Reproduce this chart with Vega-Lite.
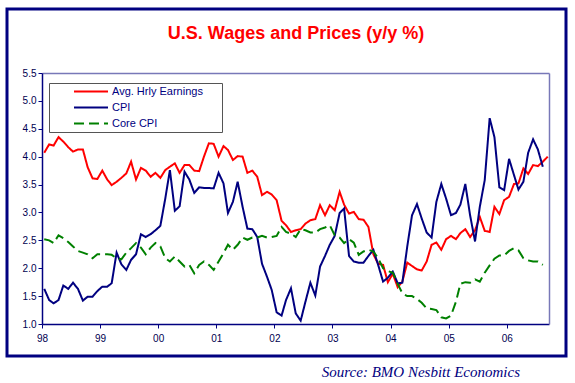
{
  "$schema": "https://vega.github.io/schema/vega-lite/v6.json",
  "width": 559,
  "height": 347,
  "autosize": {"type": "none"},
  "padding": {"left": 7, "top": 9, "right": 9, "bottom": 27},
  "background": "white",
  "config": {
    "view": {"stroke": "#000080", "strokeWidth": 3},
    "font": "Liberation Sans",
    "axis": {"grid": false}
  },
  "title": {
    "text": "Source: BMO Nesbitt Economics",
    "orient": "bottom",
    "anchor": "end",
    "frame": "group",
    "font": "Liberation Serif",
    "fontStyle": "italic",
    "fontWeight": "normal",
    "fontSize": 15,
    "color": "#000080",
    "baseline": "top",
    "offset": 9,
    "dx": -46
  },
  "data": {
    "values": [
      {"d": "1998-01-15", "AHE": 4.07, "CPI": 1.63, "Core": 2.52},
      {"d": "1998-02-15", "AHE": 4.22, "CPI": 1.43, "Core": 2.50},
      {"d": "1998-03-15", "AHE": 4.20, "CPI": 1.37, "Core": 2.45},
      {"d": "1998-04-15", "AHE": 4.35, "CPI": 1.43, "Core": 2.59},
      {"d": "1998-05-15", "AHE": 4.27, "CPI": 1.69, "Core": 2.54},
      {"d": "1998-06-15", "AHE": 4.17, "CPI": 1.63, "Core": 2.47},
      {"d": "1998-07-15", "AHE": 4.09, "CPI": 1.74, "Core": 2.39},
      {"d": "1998-08-15", "AHE": 4.13, "CPI": 1.63, "Core": 2.31},
      {"d": "1998-09-15", "AHE": 4.13, "CPI": 1.42, "Core": 2.28},
      {"d": "1998-10-15", "AHE": 3.81, "CPI": 1.49, "Core": 2.25},
      {"d": "1998-11-15", "AHE": 3.61, "CPI": 1.49, "Core": 2.18},
      {"d": "1998-12-15", "AHE": 3.60, "CPI": 1.59, "Core": 2.25},
      {"d": "1999-01-15", "AHE": 3.75, "CPI": 1.67, "Core": 2.25},
      {"d": "1999-02-15", "AHE": 3.59, "CPI": 1.67, "Core": 2.25},
      {"d": "1999-03-15", "AHE": 3.49, "CPI": 1.73, "Core": 2.24},
      {"d": "1999-04-15", "AHE": 3.55, "CPI": 2.28, "Core": 2.18},
      {"d": "1999-05-15", "AHE": 3.62, "CPI": 2.07, "Core": 2.16},
      {"d": "1999-06-15", "AHE": 3.70, "CPI": 1.97, "Core": 2.28},
      {"d": "1999-07-15", "AHE": 3.91, "CPI": 2.15, "Core": 2.36},
      {"d": "1999-08-15", "AHE": 3.59, "CPI": 2.25, "Core": 2.45},
      {"d": "1999-09-15", "AHE": 3.80, "CPI": 2.61, "Core": 2.37},
      {"d": "1999-10-15", "AHE": 3.75, "CPI": 2.56, "Core": 2.25},
      {"d": "1999-11-15", "AHE": 3.64, "CPI": 2.61, "Core": 2.37},
      {"d": "1999-12-15", "AHE": 3.71, "CPI": 2.68, "Core": 2.45},
      {"d": "2000-01-15", "AHE": 3.62, "CPI": 2.76, "Core": 2.39},
      {"d": "2000-02-15", "AHE": 3.76, "CPI": 3.25, "Core": 2.18},
      {"d": "2000-03-15", "AHE": 3.82, "CPI": 3.76, "Core": 2.12},
      {"d": "2000-04-15", "AHE": 3.88, "CPI": 3.03, "Core": 2.21},
      {"d": "2000-05-15", "AHE": 3.71, "CPI": 3.11, "Core": 2.12},
      {"d": "2000-06-15", "AHE": 3.85, "CPI": 3.73, "Core": 2.03},
      {"d": "2000-07-15", "AHE": 3.85, "CPI": 3.59, "Core": 2.06},
      {"d": "2000-08-15", "AHE": 3.75, "CPI": 3.35, "Core": 1.91},
      {"d": "2000-09-15", "AHE": 3.74, "CPI": 3.45, "Core": 2.06},
      {"d": "2000-10-15", "AHE": 4.00, "CPI": 3.44, "Core": 2.12},
      {"d": "2000-11-15", "AHE": 4.24, "CPI": 3.44, "Core": 2.06},
      {"d": "2000-12-15", "AHE": 4.23, "CPI": 3.43, "Core": 1.97},
      {"d": "2001-01-15", "AHE": 4.00, "CPI": 3.71, "Core": 2.12},
      {"d": "2001-02-15", "AHE": 4.19, "CPI": 3.52, "Core": 2.27},
      {"d": "2001-03-15", "AHE": 4.12, "CPI": 2.99, "Core": 2.42},
      {"d": "2001-04-15", "AHE": 3.94, "CPI": 3.19, "Core": 2.33},
      {"d": "2001-05-15", "AHE": 4.01, "CPI": 3.55, "Core": 2.42},
      {"d": "2001-06-15", "AHE": 4.00, "CPI": 3.10, "Core": 2.55},
      {"d": "2001-07-15", "AHE": 3.71, "CPI": 2.71, "Core": 2.51},
      {"d": "2001-08-15", "AHE": 3.75, "CPI": 2.70, "Core": 2.55},
      {"d": "2001-09-15", "AHE": 3.64, "CPI": 2.56, "Core": 2.55},
      {"d": "2001-10-15", "AHE": 3.31, "CPI": 2.08, "Core": 2.58},
      {"d": "2001-11-15", "AHE": 3.37, "CPI": 1.85, "Core": 2.55},
      {"d": "2001-12-15", "AHE": 3.32, "CPI": 1.61, "Core": 2.56},
      {"d": "2002-01-15", "AHE": 3.22, "CPI": 1.21, "Core": 2.58},
      {"d": "2002-02-15", "AHE": 2.85, "CPI": 1.15, "Core": 2.74},
      {"d": "2002-03-15", "AHE": 2.77, "CPI": 1.43, "Core": 2.65},
      {"d": "2002-04-15", "AHE": 2.65, "CPI": 1.64, "Core": 2.62},
      {"d": "2002-05-15", "AHE": 2.68, "CPI": 1.19, "Core": 2.56},
      {"d": "2002-06-15", "AHE": 2.70, "CPI": 1.06, "Core": 2.70},
      {"d": "2002-07-15", "AHE": 2.80, "CPI": 1.40, "Core": 2.68},
      {"d": "2002-08-15", "AHE": 2.86, "CPI": 1.74, "Core": 2.64},
      {"d": "2002-09-15", "AHE": 2.88, "CPI": 1.51, "Core": 2.64},
      {"d": "2002-10-15", "AHE": 3.13, "CPI": 2.03, "Core": 2.70},
      {"d": "2002-11-15", "AHE": 2.95, "CPI": 2.22, "Core": 2.73},
      {"d": "2002-12-15", "AHE": 3.13, "CPI": 2.42, "Core": 2.77},
      {"d": "2003-01-15", "AHE": 3.04, "CPI": 2.58, "Core": 2.59},
      {"d": "2003-02-15", "AHE": 3.37, "CPI": 2.99, "Core": 2.55},
      {"d": "2003-03-15", "AHE": 3.14, "CPI": 3.07, "Core": 2.45},
      {"d": "2003-04-15", "AHE": 2.98, "CPI": 2.22, "Core": 2.52},
      {"d": "2003-05-15", "AHE": 3.01, "CPI": 2.12, "Core": 2.46},
      {"d": "2003-06-15", "AHE": 2.88, "CPI": 2.10, "Core": 2.24},
      {"d": "2003-07-15", "AHE": 2.87, "CPI": 2.10, "Core": 2.30},
      {"d": "2003-08-15", "AHE": 2.74, "CPI": 2.22, "Core": 2.33},
      {"d": "2003-09-15", "AHE": 2.25, "CPI": 2.33, "Core": 2.30},
      {"d": "2003-10-15", "AHE": 2.08, "CPI": 2.06, "Core": 2.18},
      {"d": "2003-11-15", "AHE": 2.06, "CPI": 1.76, "Core": 2.00},
      {"d": "2003-12-15", "AHE": 1.75, "CPI": 1.83, "Core": 1.95},
      {"d": "2004-01-15", "AHE": 1.90, "CPI": 1.94, "Core": 1.92},
      {"d": "2004-02-15", "AHE": 1.66, "CPI": 1.73, "Core": 1.72},
      {"d": "2004-03-15", "AHE": 1.76, "CPI": 1.74, "Core": 1.55},
      {"d": "2004-04-15", "AHE": 2.10, "CPI": 2.39, "Core": 1.50},
      {"d": "2004-05-15", "AHE": 2.04, "CPI": 2.95, "Core": 1.50},
      {"d": "2004-06-15", "AHE": 1.98, "CPI": 3.15, "Core": 1.45},
      {"d": "2004-07-15", "AHE": 1.96, "CPI": 2.89, "Core": 1.38},
      {"d": "2004-08-15", "AHE": 2.12, "CPI": 2.64, "Core": 1.28},
      {"d": "2004-09-15", "AHE": 2.42, "CPI": 2.55, "Core": 1.27},
      {"d": "2004-10-15", "AHE": 2.46, "CPI": 3.19, "Core": 1.25},
      {"d": "2004-11-15", "AHE": 2.33, "CPI": 3.51, "Core": 1.12},
      {"d": "2004-12-15", "AHE": 2.52, "CPI": 3.25, "Core": 1.10},
      {"d": "2005-01-15", "AHE": 2.58, "CPI": 2.95, "Core": 1.15},
      {"d": "2005-02-15", "AHE": 2.52, "CPI": 2.99, "Core": 1.40},
      {"d": "2005-03-15", "AHE": 2.63, "CPI": 3.14, "Core": 1.72},
      {"d": "2005-04-15", "AHE": 2.70, "CPI": 3.51, "Core": 1.75},
      {"d": "2005-05-15", "AHE": 2.56, "CPI": 2.95, "Core": 1.74},
      {"d": "2005-06-15", "AHE": 2.68, "CPI": 2.48, "Core": 1.80},
      {"d": "2005-07-15", "AHE": 2.92, "CPI": 3.10, "Core": 1.76},
      {"d": "2005-08-15", "AHE": 2.67, "CPI": 3.58, "Core": 1.92},
      {"d": "2005-09-15", "AHE": 2.65, "CPI": 4.69, "Core": 2.05},
      {"d": "2005-10-15", "AHE": 3.10, "CPI": 4.35, "Core": 2.17},
      {"d": "2005-11-15", "AHE": 2.97, "CPI": 3.45, "Core": 2.23},
      {"d": "2005-12-15", "AHE": 3.22, "CPI": 3.40, "Core": 2.23},
      {"d": "2006-01-15", "AHE": 3.28, "CPI": 3.96, "Core": 2.31},
      {"d": "2006-02-15", "AHE": 3.51, "CPI": 3.67, "Core": 2.36},
      {"d": "2006-03-15", "AHE": 3.52, "CPI": 3.41, "Core": 2.32},
      {"d": "2006-04-15", "AHE": 3.79, "CPI": 3.55, "Core": 2.18},
      {"d": "2006-05-15", "AHE": 3.69, "CPI": 4.07, "Core": 2.14},
      {"d": "2006-06-15", "AHE": 3.85, "CPI": 4.31, "Core": 2.12},
      {"d": "2006-07-15", "AHE": 3.83, "CPI": 4.13, "Core": 2.12},
      {"d": "2006-08-15", "AHE": 3.91, "CPI": 3.82, "Core": 2.06},
      {"d": "2006-09-15", "AHE": 4.00}
    ]
  },
  "transform": [
    {"fold": ["AHE", "CPI", "Core"], "as": ["series", "value"]},
    {"filter": "isValid(datum.value)"}
  ],
  "layer": [
    {
      "mark": {"type": "line", "strokeWidth": 2},
      "encoding": {
        "x": {
          "field": "d",
          "type": "temporal",
          "scale": {
            "domain": [{"year": 1998, "month": 1, "date": 1}, {"year": 2006, "month": 9, "date": 23}],
            "range": [35, 542]
          },
          "axis": {
            "orient": "bottom",
            "offset": -32,
            "values": [{"year": 1998, "month": 1, "date": 1}, {"year": 1999, "month": 1, "date": 1}, {"year": 2000, "month": 1, "date": 1}, {"year": 2001, "month": 1, "date": 1}, {"year": 2002, "month": 1, "date": 1}, {"year": 2003, "month": 1, "date": 1}, {"year": 2004, "month": 1, "date": 1}, {"year": 2005, "month": 1, "date": 1}, {"year": 2006, "month": 1, "date": 1}],
            "format": "%y",
            "labelFlush": false,
            "labelOverlap": false,
            "labelFont": "Liberation Sans",
            "labelFontSize": 10,
            "labelColor": "#000050",
            "tickColor": "#000080",
            "domainColor": "#000080",
            "domainWidth": 1.5,
            "tickSize": 4,
            "labelPadding": 5,
            "title": null
          }
        },
        "y": {
          "field": "value",
          "type": "quantitative",
          "scale": {"domain": [1, 5.5], "range": [315, 64], "nice": false, "zero": false},
          "axis": {
            "orient": "left",
            "offset": -35,
            "values": [1, 1.5, 2, 2.5, 3, 3.5, 4, 4.5, 5, 5.5],
            "format": ".1f",
            "labelFlush": false,
            "labelFont": "Liberation Sans",
            "labelFontSize": 10,
            "labelColor": "#000050",
            "tickColor": "#000080",
            "domainColor": "#000080",
            "domainWidth": 1.5,
            "tickSize": 4,
            "labelPadding": 2,
            "title": null
          }
        },
        "color": {
          "field": "series",
          "type": "nominal",
          "scale": {"domain": ["AHE", "CPI", "Core"], "range": ["#ff0000", "#000080", "#008000"]},
          "legend": {
            "title": null,
            "orient": "none",
            "legendX": 42,
            "legendY": 74,
            "direction": "vertical",
            "strokeColor": "#555555",
            "fillColor": "white",
            "padding": 3,
            "rowPadding": 4,
            "clipHeight": 11,
            "symbolType": "stroke",
            "symbolSize": 1156,
            "symbolStrokeWidth": 2,
            "symbolOffset": 21,
            "labelOffset": 3,
            "labelFont": "Liberation Sans",
            "labelFontSize": 11,
            "labelColor": "#000080",
            "labelExpr": "(datum.label == 'AHE' ? 'Avg. Hrly Earnings\u2800\u2800' : datum.label == 'CPI' ? 'CPI' : 'Core CPI')"
          }
        },
        "strokeDash": {
          "field": "series",
          "type": "nominal",
          "scale": {"domain": ["AHE", "CPI", "Core"], "range": [[1, 0], [1, 0], [10, 5]]},
          "legend": {
            "title": null,
            "orient": "none",
            "legendX": 42,
            "legendY": 74,
            "direction": "vertical",
            "strokeColor": "#555555",
            "fillColor": "white",
            "padding": 3,
            "rowPadding": 4,
            "clipHeight": 11,
            "symbolType": "stroke",
            "symbolSize": 1156,
            "symbolStrokeWidth": 2,
            "symbolOffset": 21,
            "labelOffset": 3,
            "labelFont": "Liberation Sans",
            "labelFontSize": 11,
            "labelColor": "#000080",
            "labelExpr": "(datum.label == 'AHE' ? 'Avg. Hrly Earnings\u2800\u2800' : datum.label == 'CPI' ? 'CPI' : 'Core CPI')"
          }
        }
      }
    },
    {
      "mark": {"type": "point", "opacity": 0},
      "encoding": {
        "x": {
          "field": "d",
          "type": "temporal",
          "axis": {
            "orient": "top",
            "offset": -64,
            "labels": false,
            "ticks": false,
            "domainColor": "#7878b8",
            "domainWidth": 1.5,
            "title": "U.S. Wages and Prices (y/y %)",
            "titleFont": "Liberation Sans",
            "titleFontSize": 18,
            "titleFontWeight": "bold",
            "titleColor": "#ff0000",
            "titleBaseline": "alphabetic",
            "titlePadding": 35
          }
        },
        "y": {
          "field": "value",
          "type": "quantitative",
          "axis": {
            "orient": "right",
            "offset": -17,
            "labels": false,
            "ticks": false,
            "domainColor": "#7878b8",
            "domainWidth": 1.5,
            "title": null
          }
        }
      }
    }
  ],
  "resolve": {"axis": {"x": "independent", "y": "independent"}}
}
